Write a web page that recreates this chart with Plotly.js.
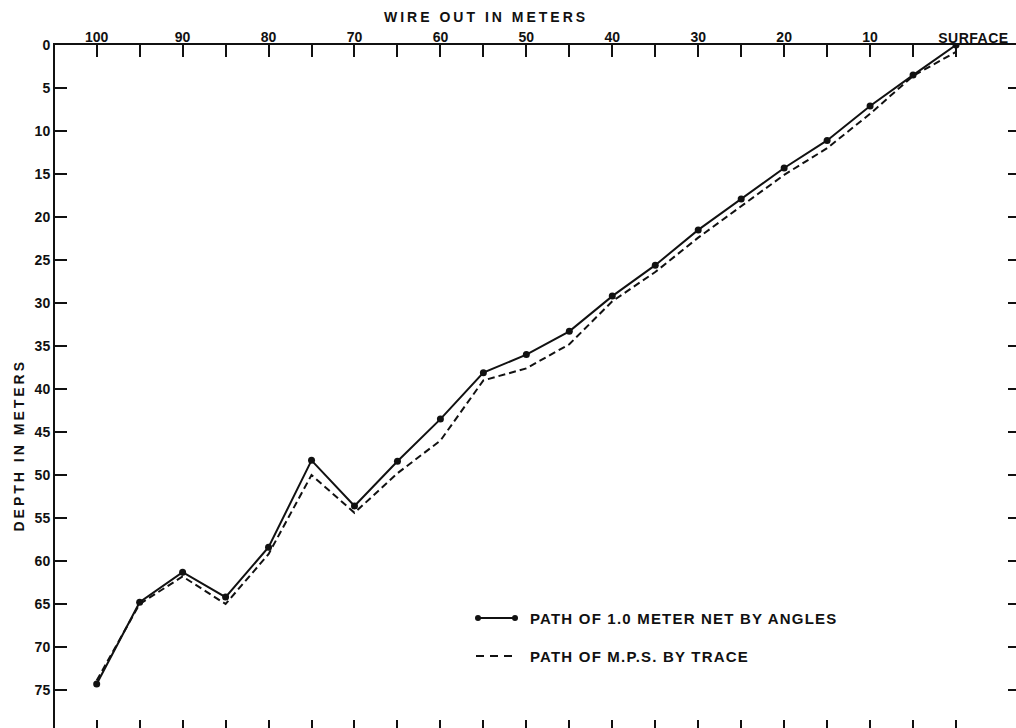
<!DOCTYPE html>
<html>
<head>
<meta charset="utf-8">
<script src="https://cdn.plot.ly/plotly-3.0.1.min.js"></script>
<style>
html,body{margin:0;padding:0;background:#fff;}
#chart{width:1016px;height:728px;}
</style>
</head>
<body>
<div id="chart"></div>
<script>
// Wire out (meters) — x positions of the observations
const wireOut = [100, 95, 90, 85, 80, 75, 70, 65, 60, 55, 50, 45, 40, 35, 30, 25, 20, 15, 10, 5, 0];
// Depth of 1.0 meter net computed from angles
const depthNetAngles = [74.3, 64.8, 61.3, 64.2, 58.4, 48.3, 53.6, 48.4, 43.5, 38.1, 36.0, 33.3, 29.2, 25.6, 21.5, 17.9, 14.3, 11.1, 7.1, 3.5, 0.0];
// Depth of M.P.S. from trace
const depthMpsTrace = [73.9, 65.0, 61.8, 65.0, 59.2, 50.0, 54.4, 49.8, 46.0, 39.0, 37.6, 34.8, 29.8, 26.4, 22.4, 18.7, 15.1, 12.0, 8.0, 3.6, 0.8];
// Axis ticks
const xTickVals = [100, 95, 90, 85, 80, 75, 70, 65, 60, 55, 50, 45, 40, 35, 30, 25, 20, 15, 10, 5, 0];
const xTickText = ['100', '', '90', '', '80', '', '70', '', '60', '', '50', '', '40', '', '30', '', '20', '', '10', '', ''];
const yTickVals = [0, 5, 10, 15, 20, 25, 30, 35, 40, 45, 50, 55, 60, 65, 70, 75];
const seriesNames = ['PATH OF 1.0 METER NET BY ANGLES', 'PATH OF M.P.S. BY TRACE'];

const W = 1016, H = 728, L = 55, R = 0, T = 45, B = 0;
const PW = W - L - R, PH = H - T - B;
const px = v => (v - L) / PW;
const py = v => 1 - (v - T) / PH;

const xRange = [104.85, -6.98];
const yRange = [79.42, 0];
const tickFont = {family: 'Liberation Sans, Arial, sans-serif', size: 14, color: '#111', weight: 'bold'};

const traces = [
  {x: wireOut, y: depthMpsTrace, type: 'scatter', mode: 'lines', name: seriesNames[1],
   line: {color: '#111', width: 2, dash: '7px,4px'}, showlegend: false},
  {x: wireOut, y: depthNetAngles, type: 'scatter', mode: 'lines+markers', name: seriesNames[0],
   line: {color: '#111', width: 2}, marker: {color: '#111', size: 7}, showlegend: false},
  // invisible helpers so the mirrored tick axes (bottom, right) are drawn
  {x: [wireOut[0]], y: [depthNetAngles[0]], xaxis: 'x2', yaxis: 'y', type: 'scatter', mode: 'markers',
   marker: {opacity: 0}, showlegend: false, hoverinfo: 'skip'},
  {x: [wireOut[0]], y: [depthNetAngles[0]], xaxis: 'x', yaxis: 'y2', type: 'scatter', mode: 'markers',
   marker: {opacity: 0}, showlegend: false, hoverinfo: 'skip'}
];

const txtFont = (s) => ({family: 'Liberation Sans, Arial, sans-serif', size: s, color: '#111', weight: 'bold'});

const annotations = [
  {text: 'WIRE OUT IN METERS', xref: 'paper', yref: 'paper', x: px(486), y: py(17), showarrow: false,
   xanchor: 'center', yanchor: 'middle', font: txtFont(14)},
  {text: 'DEPTH IN METERS', xref: 'paper', yref: 'paper', x: px(19), y: py(445), showarrow: false,
   textangle: -90, xanchor: 'center', yanchor: 'middle', font: txtFont(14)},
  {text: 'SURFACE', xref: 'paper', yref: 'paper', x: px(973), y: py(38), showarrow: false,
   xanchor: 'center', yanchor: 'middle', font: txtFont(14)},
  {text: seriesNames[0], xref: 'paper', yref: 'paper', x: px(528), y: py(618), showarrow: false,
   xanchor: 'left', yanchor: 'middle', align: 'left', font: txtFont(15)},
  {text: seriesNames[1], xref: 'paper', yref: 'paper', x: px(528), y: py(656), showarrow: false,
   xanchor: 'left', yanchor: 'middle', align: 'left', font: txtFont(15)}
];

const r = 3.0;
const shapes = [
  {type: 'line', xref: 'paper', yref: 'paper', x0: px(478), x1: px(515), y0: py(618), y1: py(618), line: {color: '#111', width: 2}},
  {type: 'circle', xref: 'paper', yref: 'paper', x0: px(478 - r), x1: px(478 + r), y0: py(618 - r), y1: py(618 + r), fillcolor: '#111', line: {width: 0}},
  {type: 'circle', xref: 'paper', yref: 'paper', x0: px(515 - r), x1: px(515 + r), y0: py(618 - r), y1: py(618 + r), fillcolor: '#111', line: {width: 0}},
  {type: 'line', xref: 'paper', yref: 'paper', x0: px(476), x1: px(514), y0: py(656), y1: py(656), line: {color: '#111', width: 2, dash: '8px,6px'}}
];

const layout = {
  width: W, height: H,
  margin: {l: L, r: R, t: T, b: B, pad: 0},
  paper_bgcolor: '#fff', plot_bgcolor: '#fff',
  showlegend: false,
  xaxis: {side: 'top', range: xRange, showline: true, linewidth: 2, linecolor: '#111',
    ticks: 'inside', ticklen: 12, tickwidth: 2, tickcolor: '#111',
    tickmode: 'array', tickvals: xTickVals, ticktext: xTickText, tickfont: tickFont,
    showgrid: false, zeroline: false, ticklabelstandoff: -5},
  xaxis2: {overlaying: 'x', side: 'bottom', anchor: 'y', range: xRange, showline: false,
    ticks: 'inside', ticklen: 8, tickwidth: 2, tickcolor: '#111',
    tickmode: 'array', tickvals: xTickVals, showticklabels: false, showgrid: false, zeroline: false},
  yaxis: {range: yRange, showline: true, linewidth: 2, linecolor: '#111',
    ticks: 'inside', ticklen: 12, tickwidth: 2, tickcolor: '#111',
    tickmode: 'array', tickvals: yTickVals, tickfont: tickFont,
    showgrid: false, zeroline: false, ticklabelstandoff: 0},
  yaxis2: {overlaying: 'y', side: 'right', anchor: 'x', range: yRange, showline: false,
    ticks: 'inside', ticklen: 8, tickwidth: 2, tickcolor: '#111',
    tickmode: 'array', tickvals: yTickVals, showticklabels: false, showgrid: false, zeroline: false},
  annotations: annotations,
  shapes: shapes
};

Plotly.newPlot('chart', traces, layout, {displayModeBar: false, staticPlot: true}).then(gd => {
  const texts = gd.querySelectorAll('.annotation-text');
  texts.forEach((t, i) => {
    if (i < 2) t.style.letterSpacing = '3px';
    else if (i === 2) t.style.letterSpacing = '0.5px';
    else t.style.letterSpacing = '1.2px';
  });
});
</script>
</body>
</html>
